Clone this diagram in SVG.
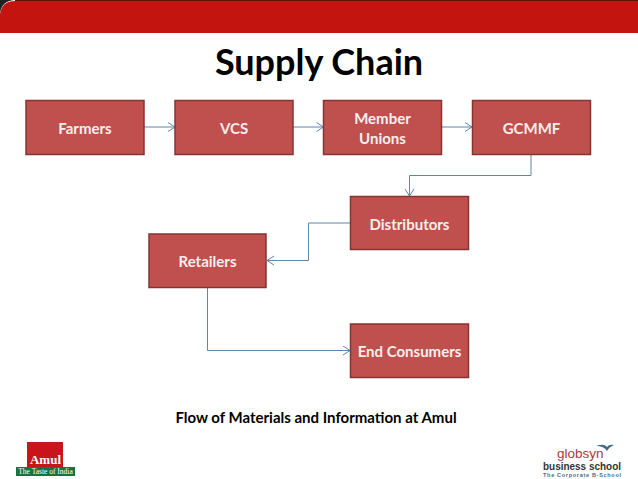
<svg xmlns="http://www.w3.org/2000/svg" width="638" height="479" viewBox="0 0 638 479">
<defs>
<marker id="arr" markerUnits="userSpaceOnUse" markerWidth="12" markerHeight="12" refX="8.5" refY="5" orient="auto"><path d="M1.5 0.5 L8.500 5 L1.500 9.500" fill="none" stroke="#5b86ad" stroke-width="1"/></marker>
</defs>
<style>
text{font-family:Lato,"Liberation Sans",sans-serif;font-weight:700}
.n rect{fill:#c0504d;stroke:#843432;stroke-width:1.5}
.n text{fill:#f8eeee;font-size:15px;text-anchor:middle}
.c path{fill:none;stroke:#5b86ad;stroke-width:1;marker-end:url(#arr)}
</style>
<rect width="638" height="479" fill="#fff"/>
<g id="banner"><path d="M0 33 V14 Q2 1 15 1 H638 V33 Z" fill="#c41410"/><path d="M15 0.500 H638" stroke="#5a1010" stroke-width="1.200" fill="none"/><path d="M0 0H14Q2 1 0 13Z" fill="#222"/></g>
<text x="319" y="74.500" font-size="36" text-anchor="middle" fill="#000">Supply Chain</text>
<g class="c" id="connectors">
<path d="M144 127 H175"/>
<path d="M293 127 H323.500"/>
<path d="M442 127 H472"/>
<path d="M531 155 V175.500 H409.500 V196"/>
<path d="M350 223 H308.500 V260.500 H267"/>
<path d="M207.500 288 V350.500 H350"/>
</g>
<g class="n" id="farmers"><rect x="26" y="100.500" width="118" height="54"/><text x="85" y="133.500">Farmers</text></g>
<g class="n" id="vcs"><rect x="175" y="100.500" width="118" height="54"/><text x="234" y="133.500">VCS</text></g>
<g class="n" id="member-unions"><rect x="323.500" y="100.500" width="118" height="54"/><text x="382.500" y="123.500">Member</text><text x="382.500" y="143.500">Unions</text></g>
<g class="n" id="gcmmf"><rect x="472.500" y="100.500" width="118" height="54"/><text x="531.500" y="133.500">GCMMF</text></g>
<g class="n" id="distributors"><rect x="350.500" y="196.500" width="118" height="53"/><text x="409.500" y="229.500">Distributors</text></g>
<g class="n" id="retailers"><rect x="149" y="234" width="117" height="53.500"/><text x="207.500" y="266.500">Retailers</text></g>
<g class="n" id="end-consumers"><rect x="350.500" y="324" width="118" height="53.500"/><text x="409.500" y="356.500">End Consumers</text></g>
<text x="316" y="422.500" font-size="15" text-anchor="middle" fill="#000">Flow of Materials and Information at Amul</text>
<g id="amul-logo"><rect x="27" y="442" width="36" height="34" fill="#c8141a"/><rect x="16" y="467" width="59" height="9" fill="#11763f"/><text x="45.500" y="464" font-size="13" fill="#fff" text-anchor="middle" style="font-family:'Liberation Serif',serif">Amul</text><text x="45.500" y="474" font-size="7.500" fill="#fff" text-anchor="middle" style="font-family:'Liberation Serif',serif;font-weight:400">The Taste of India</text></g>
<g id="globsyn-logo"><path d="M596 446 Q604 443 607 447 Q609 444 614 445 Q609 447 607 451 Q604 446 596 446Z" fill="#3e6c87"/>
<text x="557" y="458" font-size="13.500" fill="#a8383c" style="font-family:'Liberation Sans',sans-serif;font-weight:400">globsyn</text>
<text x="543" y="469.500" font-size="11" fill="#333" textLength="78" lengthAdjust="spacingAndGlyphs" style="font-family:'Liberation Sans',sans-serif">business school</text>
<text x="543" y="476.500" font-size="5.500" fill="#3e6c87" textLength="78" style="font-family:'Liberation Sans',sans-serif">The Corporate B-School</text></g>
</svg>
